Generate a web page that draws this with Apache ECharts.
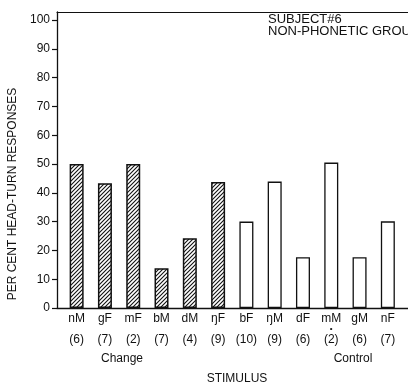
<!DOCTYPE html>
<html>
<head>
<meta charset="utf-8">
<script src="https://cdn.jsdelivr.net/npm/echarts@6/dist/echarts.min.js"></script>
<style>
  html, body { margin: 0; padding: 0; background: #fff; }
  #chart { width: 408px; height: 387px; }
</style>
</head>
<body>
<div id="chart"></div>
<script>
// Stimulus syllables, the number of trials for each, and an optional mark under the name
const categories = ['nM', 'gF', 'mF', 'bM', 'dM', 'ŋF', 'bF', 'ŋM', 'dF', 'mM', 'gM', 'nF'];
const trialCounts = ['(6)', '(7)', '(2)', '(7)', '(4)', '(9)', '(10)', '(9)', '(6)', '(2)', '(6)', '(7)'];
const labelMarks = ['', '', '', '', '', '', '', '', '', '•', '', ''];

// Per cent head-turn responses: change stimuli (hatched) and control stimuli (open)
const changeValues = [50, 43.3, 50, 13.8, 24.2, 43.8, null, null, null, null, null, null];
const controlValues = [null, null, null, null, null, null, 30, 43.9, 17.6, 50.5, 17.6, 30.1];

const yTicks = [0, 10, 20, 30, 40, 50, 60, 70, 80, 90, 100];
const groupLabels = ['Change', 'Control'];
const headerLines = ['SUBJECT#6', 'NON-PHONETIC GROUP'];
const yTitle = 'PER CENT HEAD-TURN RESPONSES';
const xTitle = 'STIMULUS';

const FONT = "'Liberation Sans', Arial, sans-serif";
const INK = '#111';
const Y_MAX = 102.8;

// Diagonal hatching used to fill the change bars
function hatchPattern() {
  const s = 4;
  const c = document.createElement('canvas');
  c.width = s; c.height = s;
  const g = c.getContext('2d');
  g.fillStyle = '#fff';
  g.fillRect(0, 0, s, s);
  g.strokeStyle = '#111';
  g.lineWidth = 1.1;
  g.beginPath();
  g.moveTo(-1, s + 1); g.lineTo(s + 1, -1);
  g.moveTo(-1, 1); g.lineTo(1, -1);
  g.moveTo(s - 1, s + 1); g.lineTo(s + 1, s - 1);
  g.stroke();
  return c;
}

const chart = echarts.init(document.getElementById('chart'), null, { renderer: 'canvas' });

const option = {
  backgroundColor: '#fff',
  animation: false,
  textStyle: { fontFamily: FONT, color: INK },
  grid: [
    // bars
    { left: 62.5, width: 339.5, top: 12, height: 296 },
    // frame: left axis, baseline and top rule
    { left: 57, right: -4, top: 12, height: 296 }
  ],
  xAxis: [
    {
      type: 'category',
      gridIndex: 0,
      data: categories,
      axisLine: { show: false },
      axisTick: { show: false },
      axisLabel: {
        margin: 4,
        interval: 0,
        formatter: function (value, idx) {
          const mark = labelMarks[idx] ? '{d|' + labelMarks[idx] + '}' : '{d| }';
          return '{n|' + value + '}\n' + mark + '\n{c|' + trialCounts[idx] + '}';
        },
        rich: {
          n: { fontFamily: FONT, fontSize: 12, color: INK, lineHeight: 14 },
          d: { fontFamily: FONT, fontSize: 8, color: INK, lineHeight: 7, padding: [0, 0, 1, 0] },
          c: { fontFamily: FONT, fontSize: 12, color: INK, lineHeight: 14 }
        }
      }
    },
    {
      type: 'value', gridIndex: 1, position: 'bottom', min: 0, max: 1,
      axisLine: { show: true, onZero: false, lineStyle: { color: INK, width: 1.3 } },
      axisTick: { show: false }, axisLabel: { show: false }, splitLine: { show: false }
    },
    {
      type: 'value', gridIndex: 1, position: 'top', min: 0, max: 1,
      axisLine: { show: true, onZero: false, lineStyle: { color: INK, width: 1.1 } },
      axisTick: { show: false }, axisLabel: { show: false }, splitLine: { show: false }
    }
  ],
  yAxis: [
    { type: 'value', gridIndex: 0, min: 0, max: Y_MAX, show: false },
    {
      type: 'value', gridIndex: 1, min: 0, max: Y_MAX,
      axisLine: { show: true, onZero: false, lineStyle: { color: INK, width: 1.3 } },
      axisTick: { show: true, inside: false, length: 5, customValues: yTicks, lineStyle: { color: INK, width: 1.2 } },
      axisLabel: { customValues: yTicks, margin: 7, fontFamily: FONT, fontSize: 12, color: INK },
      splitLine: { show: false }
    }
  ],
  series: [
    {
      name: groupLabels[0],
      type: 'bar',
      xAxisIndex: 0, yAxisIndex: 0,
      data: changeValues,
      barWidth: 14,
      barGap: '-100%',
      itemStyle: {
        color: { image: hatchPattern(), repeat: 'repeat' },
        borderColor: INK,
        borderWidth: 1.5
      }
    },
    {
      name: groupLabels[1],
      type: 'bar',
      xAxisIndex: 0, yAxisIndex: 0,
      data: controlValues,
      barWidth: 14,
      barGap: '-100%',
      itemStyle: { color: '#fff', borderColor: INK, borderWidth: 1.3 }
    }
  ],
  graphic: [
    {
      type: 'text', left: 268, top: 13,
      style: { text: headerLines[0], font: '13px ' + FONT, fill: INK }
    },
    {
      type: 'text', left: 268, top: 25,
      style: { text: headerLines[1], font: '13px ' + FONT, fill: INK }
    },
    {
      type: 'text', x: 13, y: 194, rotation: Math.PI / 2,
      style: { text: yTitle, font: '12px ' + FONT, fill: INK, align: 'center', verticalAlign: 'middle' }
    },
    {
      type: 'text', x: 122, y: 359,
      style: { text: groupLabels[0], font: '12px ' + FONT, fill: INK, align: 'center', verticalAlign: 'middle' }
    },
    {
      type: 'text', x: 353, y: 359,
      style: { text: groupLabels[1], font: '12px ' + FONT, fill: INK, align: 'center', verticalAlign: 'middle' }
    },
    {
      type: 'text', x: 237, y: 379,
      style: { text: xTitle, font: '12px ' + FONT, fill: INK, align: 'center', verticalAlign: 'middle' }
    }
  ]
};

chart.setOption(option);
</script>
</body>
</html>
